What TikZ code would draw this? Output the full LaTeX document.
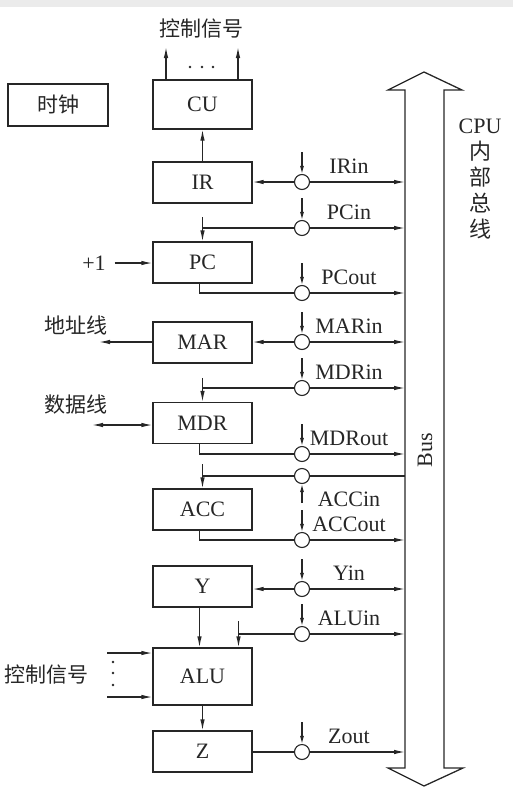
\documentclass[tikz,border=0pt]{standalone}
\usepackage{fontspec}
\setmainfont{Liberation Serif}
\newfontfamily\cjk{Noto Sans CJK SC}
\usetikzlibrary{arrows.meta,calc}

\tikzset{
	reg/.style={draw,line width=1.2pt,minimum width=99pt,minimum height=41pt,inner sep=0pt},
	sw/.style={draw,circle,line width=1.1pt,minimum size=15pt,inner sep=0pt,fill=white},
	bt/.style={-{Latex[length=11pt,width=4.5pt]}},
	btt/.style={{Latex[length=11pt,width=4.5pt]}-{Latex[length=11pt,width=4.5pt]}},
	ctl/.style={-{Latex[length=8pt,width=4pt]}},
	cn/.style={font=\cjk\fontsize{21}{25}\selectfont}
}

\begin{document}
\begin{tikzpicture}[x=1pt,y=-1pt,line width=1.2pt,color=black!85,font=\fontsize{22}{26}\selectfont]
		\useasboundingbox (0,0) rectangle (513,801);
		\fill[black!8] (0,0) rectangle (513,7);
		% registers
		\node[reg,minimum height=49pt] (CU) at (202.5,104.5) {CU};
		\node[reg,minimum width=100pt,minimum height=42pt,cn] (clk) at (58,105) {时钟};
		\foreach \n/\y in {IR/182.5,PC/262.5,MAR/342.5,MDR/423,ACC/509.5,Y/586.5,Z/751.5}
			\node[reg] (\n) at (202.5,\y) {\n};
		\node[reg,minimum height=57pt] (ALU) at (202.5,676.5) {ALU};
		% bus
		\draw[line width=1.3pt] (405,768) -- (405,90) -- (388,90) -- (424,72) -- (462,90) -- (444,90) -- (444,768) -- (463,768) -- (424,786) -- (388,768) -- cycle;
		\coordinate (bus) at (405,400);
		\node[rotate=90] (buslab) at (425,450) {Bus};
		\node[anchor=north,align=center] (cpubus) at (480,115) {CPU\\{\cjk 内}\\{\cjk 部}\\{\cjk 总}\\{\cjk 线}};
		% switches
		\foreach \s/\y in {IRin/182,PCin/228,PCout/293,MARin/342,MDRin/388,MDRout/454,ACCin/476,ACCout/540,Yin/589,ALUin/634,Zout/752}
			\node[sw] (\s) at (302,\y) {};
		\foreach \s/\y in {IRin/182,PCin/228,PCout/293,MARin/342,MDRin/388,MDRout/454,ACCout/540,Yin/589,ALUin/634,Zout/752}{
			\draw[ctl] (302,\y-30) -- (\s.north);
			\draw[bt] (\s.east) -- (\s -| bus);
			\node[anchor=base] at (349,\y-9) {\s};
		}
		\draw[ctl] (302,503) -- (ACCin.south);
		\draw (ACCin.east) -- (ACCin -| bus);
		\node[anchor=base] at (349,506) {ACCin};
		% into registers
		\draw[bt] (IRin.west) -- (IRin -| IR.east);
		\draw[bt] (MARin.west) -- (MARin -| MAR.east);
		\draw[bt] (Yin.west) -- (Yin -| Y.east);
		\foreach \s/\n in {PCin/PC,MDRin/MDR,ACCin/ACC}{
			\draw (\s.west) -- (\s -| \n.north);
			\draw[bt] ([yshift=24pt]\n.north) -- (\n.north);
		}
		\coordinate (aluin) at ([xshift=36pt]ALU.north);
		\draw (ALUin.west) -- (ALUin -| aluin);
		\draw[bt] ([yshift=26pt]aluin) -- (aluin);
		% out of registers
		\foreach \s/\n in {PCout/PC,MDRout/MDR,ACCout/ACC}
			\draw ([xshift=-3pt]\n.south) |- (\s.west);
		\draw (Zout -| Z.east) -- (Zout.west);
		\draw[bt] (IR) -- (CU);
		\draw[bt] ([xshift=-3pt]Y.south) -- ([xshift=-3pt]ALU.north);
		\draw[bt] (ALU) -- (Z);
		% CU outputs
		\node[cn] (cusig) at (201,29) {控制信号};
		\coordinate (u1) at (166,47);
		\coordinate (u2) at (238,47);
		\draw[bt] (CU.north -| u1) -- (u1);
		\draw[bt] (CU.north -| u2) -- (u2);
		\foreach \x in {190,202,213}
			\fill (\x,67) circle[radius=1.3];
		% left side
		\node (inc) at (94,263) {+1};
		\draw[bt] ([xshift=5pt]inc.east) -- (inc -| PC.west);
		\node[cn] (addrlab) at (76,325) {地址线};
		\coordinate (addr) at (99,342);
		\draw[bt] (addr -| MAR.west) -- (addr);
		\node[cn] (datalab) at (76,405) {数据线};
		\coordinate (data) at (92,425);
		\draw[btt] (data) -- (data -| MDR.west);
		\node[cn] (alusig) at (47,675) {控制信号};
		\coordinate (c1) at (107,653);
		\coordinate (c2) at (107,697);
		\draw[bt] (c1) -- (c1 -| ALU.west);
		\draw[bt] (c2) -- (c2 -| ALU.west);
		\foreach \y in {662,673,685}
			\fill (113,\y) circle[radius=1.3];
	\end{tikzpicture}
\end{document}
